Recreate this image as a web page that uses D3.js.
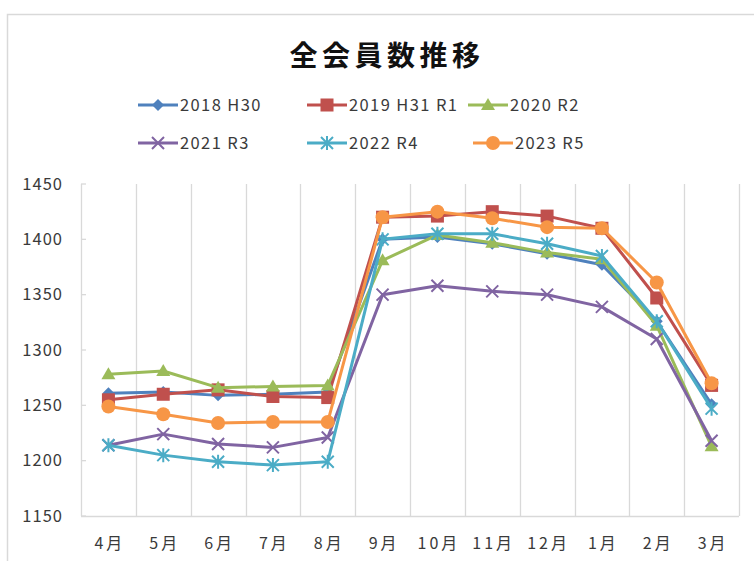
<!DOCTYPE html>
<html>
<head>
<meta charset="utf-8">
<script src="https://cdn.jsdelivr.net/npm/d3@7"></script>
<style>
  body { margin: 0; background: #fff; }
  text { font-family: "Noto Sans CJK JP", "Noto Sans", sans-serif; fill: #3a3a3a; }
</style>
</head>
<body>
<div id="chart"></div>
<script>
// data
var months = ["4月", "5月", "6月", "7月", "8月", "9月", "10月", "11月", "12月", "1月", "2月", "3月"];
var yTicks = [1150, 1200, 1250, 1300, 1350, 1400, 1450];

var s2018 = [1261, 1262, 1259, 1260, 1262, 1400, 1402, 1396, 1387, 1377, 1326, 1251];
var s2019 = [1255, 1260, 1264, 1258, 1257, 1420, 1421, 1425, 1421, 1410, 1347, 1268];
var s2020 = [1278, 1281, 1266, 1267, 1268, 1381, 1404, 1397, 1388, 1382, 1322, 1213];
var s2021 = [1214, 1224, 1215, 1212, 1221, 1350, 1358, 1353, 1350, 1339, 1310, 1218];
var s2022 = [1214, 1205, 1199, 1196, 1199, 1400, 1405, 1405, 1396, 1385, 1326, 1247];
var s2023 = [1249, 1242, 1234, 1235, 1235, 1420, 1425, 1419, 1411, 1410, 1361, 1270];

var seriesNames = ["2018 H30", "2019 H31 R1", "2020 R2", "2021 R3", "2022 R4", "2023 R5"];
var seriesValues = [s2018, s2019, s2020, s2021, s2022, s2023];
var seriesColors = ["#4F81BD", "#C0504D", "#9BBB59", "#8064A2", "#4BACC6", "#F79646"];
var seriesMarkers = ["diamond", "square", "triangle", "x", "star", "circle"];

const W = 754, H = 561;
const plot = { left: 81, right: 739, top: 184, bottom: 516 };

var svg = d3.select("#chart").append("svg")
  .attr("width", W)
  .attr("height", H);

// outer chart border (runs off the right and bottom)
svg.append("path")
  .attr("d", `M7.5,${H + 2}V14.5H${W + 2}`)
  .attr("fill", "none")
  .attr("stroke", "#d9d9d9")
  .attr("stroke-width", 1.5);

const x = d3.scaleBand().domain(months).range([plot.left, plot.right]);
const y = d3.scaleLinear().domain([1150, 1450]).range([plot.bottom, plot.top]);

// vertical gridlines at category boundaries
svg.append("g")
  .selectAll("line")
  .data(months)
  .enter().append("line")
  .attr("x1", d => Math.round(x(d) + x.bandwidth()) + 0.5)
  .attr("x2", d => Math.round(x(d) + x.bandwidth()) + 0.5)
  .attr("y1", plot.top)
  .attr("y2", plot.bottom)
  .attr("stroke", "#d9d9d9")
  .attr("stroke-width", 1.3);

// y axis line + ticks
svg.append("line")
  .attr("x1", plot.left + 0.5).attr("x2", plot.left + 0.5)
  .attr("y1", plot.top).attr("y2", plot.bottom)
  .attr("stroke", "#d9d9d9").attr("stroke-width", 1.3);

svg.append("g")
  .selectAll("line")
  .data(yTicks)
  .enter().append("line")
  .attr("x1", plot.left)
  .attr("x2", plot.left + 5)
  .attr("y1", d => y(d))
  .attr("y2", d => y(d))
  .attr("stroke", "#d9d9d9")
  .attr("stroke-width", 1.3);

// x axis line
svg.append("line")
  .attr("x1", plot.left).attr("x2", plot.right)
  .attr("y1", plot.bottom + 0.5).attr("y2", plot.bottom + 0.5)
  .attr("stroke", "#d9d9d9").attr("stroke-width", 1.3);

svg.append("g")
  .selectAll("text")
  .data(yTicks)
  .enter().append("text")
  .attr("x", 63)
  .attr("y", d => y(d))
  .attr("dy", "0.35em")
  .attr("text-anchor", "end")
  .style("font-size", "16.5px")
  .style("letter-spacing", "1px")
  .text(d => d);

svg.append("g")
  .selectAll("text")
  .data(months)
  .enter().append("text")
  .attr("x", d => x(d) + x.bandwidth() / 2 + 1.5)
  .attr("y", 543)
  .attr("dy", "0.35em")
  .attr("text-anchor", "middle")
  .style("font-size", "16px")
  .style("letter-spacing", "3px")
  .text(d => d);

// title
svg.append("text")
  .attr("x", 387)
  .attr("y", 56)
  .attr("dy", "0.35em")
  .attr("text-anchor", "middle")
  .style("font-size", "28px")
  .style("font-weight", "bold")
  .style("letter-spacing", "4.5px")
  .style("fill", "#111")
  .text("全会員数推移");

function drawMarker(g, type, color, cx, cy) {
  if (type === "diamond") {
    g.append("path").attr("d", `M${cx},${cy - 6}L${cx + 6},${cy}L${cx},${cy + 6}L${cx - 6},${cy}Z`).attr("fill", color);
  } else if (type === "square") {
    g.append("rect").attr("x", cx - 6.5).attr("y", cy - 6.5).attr("width", 13).attr("height", 13).attr("fill", color);
  } else if (type === "triangle") {
    g.append("path").attr("d", `M${cx},${cy - 7}L${cx + 7},${cy + 5}L${cx - 7},${cy + 5}Z`).attr("fill", color);
  } else if (type === "circle") {
    g.append("circle").attr("cx", cx).attr("cy", cy).attr("r", 7).attr("fill", color);
  } else if (type === "x" || type === "star") {
    var s = 6;
    var d = `M${cx - s},${cy - s}L${cx + s},${cy + s}M${cx - s},${cy + s}L${cx + s},${cy - s}`;
    if (type === "star") d += `M${cx},${cy - s - 1}L${cx},${cy + s + 1}`;
    g.append("path").attr("d", d).attr("stroke", color).attr("stroke-width", 2).attr("fill", "none");
  }
}

const line = d3.line()
  .x((d, i) => x(months[i]) + x.bandwidth() / 2)
  .y(d => y(d));

seriesValues.forEach((vals, k) => {
  var g = svg.append("g");
  g.append("path")
    .attr("d", line(vals))
    .attr("fill", "none")
    .attr("stroke", seriesColors[k])
    .attr("stroke-width", 3)
    .attr("stroke-linejoin", "round");
  vals.forEach((v, i) => {
    drawMarker(g, seriesMarkers[k], seriesColors[k], x(months[i]) + x.bandwidth() / 2, y(v));
  });
});

// legend
var legendPos = [
  [138, 105], [307, 105], [468, 105],
  [138, 143], [307, 143], [473, 143]
];

seriesNames.forEach((name, k) => {
  var lx = legendPos[k][0], ly = legendPos[k][1];
  var g = svg.append("g");
  g.append("line")
    .attr("x1", lx).attr("x2", lx + 40)
    .attr("y1", ly).attr("y2", ly)
    .attr("stroke", seriesColors[k])
    .attr("stroke-width", 3);
  drawMarker(g, seriesMarkers[k], seriesColors[k], lx + 20, ly);
  g.append("text")
    .attr("x", lx + 42)
    .attr("y", ly)
    .attr("dy", "0.35em")
    .style("font-size", "16.5px")
    .style("letter-spacing", "1.4px")
    .text(name);
});
</script>
</body>
</html>
